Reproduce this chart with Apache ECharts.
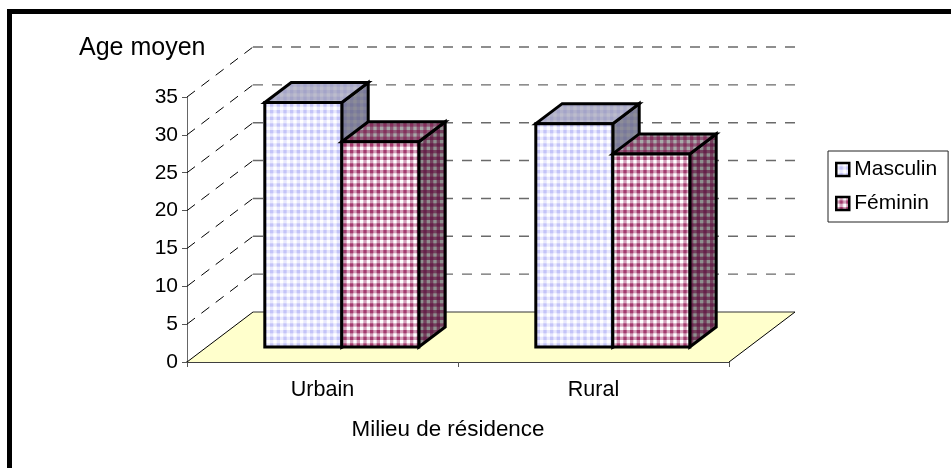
<!DOCTYPE html>
<html>
<head>
<meta charset="utf-8">
<style>html,body{margin:0;padding:0;background:#fff}#c{width:951px;height:468px}</style>
<script src="https://cdn.jsdelivr.net/npm/echarts@6/dist/echarts.min.js"></script>
</head>
<body>
<div id="c"></div>
<script>
const categories = ['Urbain', 'Rural'];
const masculin = [32.3, 29.5];
const feminin = [27.1, 25.5];
const tickValues = [0, 5, 10, 15, 20, 25, 30, 35];
const seriesNames = ['Masculin', 'Féminin'];

const depthX = 66, depthY = 50, barFront = 0.3, barBack = 0.7, barShare = 77 / 271;
const FONT = '"Liberation Sans", Arial, sans-serif';

function plaid(light, mid, dark) {
  const size = 20, period = size / 3, cell = period / 2;
  const c = document.createElement('canvas');
  c.width = size; c.height = size;
  const g = c.getContext('2d');
  g.fillStyle = mid; g.fillRect(0, 0, size, size);
  for (let i = 0; i < 3; i++) {
    for (let j = 0; j < 3; j++) {
      g.fillStyle = light;
      g.fillRect(i * period, j * period, cell, cell);
      g.fillStyle = dark;
      g.fillRect(i * period + cell, j * period + cell, cell, cell);
    }
  }
  return { image: c, repeat: 'repeat' };
}
const fills = {
  Masculin: { front: plaid('#ffffff', '#e8e8fd', '#c4c4f8'), top: plaid('#bcbccc', '#b0b0ca', '#a4a4c8'), side: plaid('#8c8c98', '#82829a', '#78789a') },
  'Féminin': { front: plaid('#ffffff', '#d4a0ba', '#a33a6e'), top: plaid('#a8a8a8', '#8e5a78', '#84305c'), side: plaid('#8f8f8f', '#72405c', '#66204a') }
};

function wallItem(params, api) {
  const v = api.value(1);
  const a = api.coord([0, v]);
  const left = api.coord([0, 0])[0] - api.size([1, 0])[0] / 2;
  const right = left + api.size([1, 0])[0] * categories.length;
  const y = a[1];
  const bx = left + depthX, by = y - depthY;
  if (v === 0) {
    return {
      type: 'group', children: [
        { type: 'polygon', shape: { points: [[left, y], [bx, by], [right + depthX, by], [right, y]] }, style: { fill: '#ffffcc', stroke: null } },
        { type: 'line', shape: { x1: left, y1: y, x2: bx, y2: by }, style: { stroke: '#000', lineWidth: 1 } },
        { type: 'line', shape: { x1: bx, y1: by, x2: right + depthX, y2: by }, style: { stroke: '#333', lineWidth: 1 } },
        { type: 'line', shape: { x1: right + depthX, y1: by, x2: right, y2: y }, style: { stroke: '#000', lineWidth: 1 } }
      ]
    };
  }
  return {
    type: 'group', children: [
      { type: 'line', shape: { x1: left, y1: y, x2: bx, y2: by }, style: { stroke: '#000', lineWidth: 1, lineDash: [10, 8] } },
      { type: 'line', shape: { x1: bx, y1: by, x2: right + depthX, y2: by }, style: { stroke: '#6a6a6a', lineWidth: 1.4, lineDash: [10, 9] } }
    ]
  };
}

function barItem(seriesIndex, name) {
  return function (params, api) {
    const i = api.value(0), v = api.value(1);
    const base = api.coord([i, 0]);
    const top = api.coord([i, v]);
    const w = api.size([1, 0])[0] * barShare;
    const fx = depthX * barFront, fy = depthY * barFront;
    const bx = depthX * (barBack - barFront), by = depthY * (barBack - barFront);
    const x0 = base[0] - w + seriesIndex * w + fx - 0.5, x1 = x0 + w;
    const y0 = base[1] - fy, y1 = top[1] - fy;
    const stroke = { stroke: '#000', lineWidth: 3, lineJoin: 'miter' };
    const f = fills[name];
    return {
      type: 'group', children: [
        { type: 'polygon', shape: { points: [[x1, y1], [x1 + bx, y1 - by], [x1 + bx, y0 - by], [x1, y0]] }, style: Object.assign({ fill: f.side }, stroke) },
        { type: 'polygon', shape: { points: [[x0, y1], [x0 + bx, y1 - by], [x1 + bx, y1 - by], [x1, y1]] }, style: Object.assign({ fill: f.top }, stroke) },
        { type: 'rect', shape: { x: x0, y: y1, width: w, height: y0 - y1 }, style: Object.assign({ fill: f.front }, stroke) }
      ]
    };
  };
}

const chart = echarts.init(document.getElementById('c'), null, { renderer: 'canvas' });
chart.setOption({
  animation: false,
  backgroundColor: '#fff',
  textStyle: { fontFamily: FONT, color: '#000' },
  title: { text: 'Age moyen', left: 79, top: 36, padding: 0, textStyle: { fontFamily: FONT, fontSize: 25, fontWeight: 'normal', color: '#000' } },
  grid: { left: 187, right: 222, top: 97, bottom: 106 },
  legend: {
    data: seriesNames,
    orient: 'vertical', left: 828, top: 151, padding: [8, 11, 8, 7],
    backgroundColor: '#fff', borderColor: '#222', borderWidth: 1, borderRadius: 0,
    itemWidth: 13, itemHeight: 13, itemGap: 13, icon: 'rect', selectedMode: false,
    itemStyle: { borderColor: '#000', borderWidth: 2.5 },
    textStyle: { fontFamily: FONT, fontSize: 21, color: '#000' }
  },
  xAxis: {
    type: 'category', data: categories,
    name: 'Milieu de résidence', nameLocation: 'middle', nameGap: 57,
    nameTextStyle: { fontFamily: FONT, fontSize: 22.4, color: '#000', padding: [0, 20, 0, 0] },
    axisLine: { show: true, lineStyle: { color: '#000', width: 1.5 } },
    axisTick: { show: true, alignWithLabel: false, length: 5, lineStyle: { color: '#555' } },
    axisLabel: { fontFamily: FONT, fontSize: 21.5, color: '#000', margin: 17 },
    splitLine: { show: false }
  },
  yAxis: {
    type: 'value', min: 0, max: 35, interval: 5,
    axisLine: { show: true, lineStyle: { color: '#666' } },
    axisTick: { show: true, length: 5, lineStyle: { color: '#555' } },
    axisLabel: { fontFamily: FONT, fontSize: 21, color: '#000', margin: 9 },
    splitLine: { show: false }
  },
  series: [
    { type: 'custom', name: 'Parois', silent: true, z: 1, renderItem: wallItem, encode: { x: 0, y: 1 }, data: tickValues.map(function (t) { return [0, t]; }) },
    { type: 'custom', name: seriesNames[0], z: 2, renderItem: barItem(0, seriesNames[0]), encode: { x: 0, y: 1 }, itemStyle: { color: fills[seriesNames[0]].front, borderColor: '#000', borderWidth: 2.5 }, data: masculin.map(function (v, i) { return [i, v]; }) },
    { type: 'custom', name: seriesNames[1], z: 3, renderItem: barItem(1, seriesNames[1]), encode: { x: 0, y: 1 }, itemStyle: { color: fills[seriesNames[1]].front, borderColor: '#000', borderWidth: 2.5 }, data: feminin.map(function (v, i) { return [i, v]; }) }
  ],
  graphic: [
    { type: 'rect', silent: true, shape: { x: 7, y: 9, width: 944, height: 5 }, style: { fill: '#000' } },
    { type: 'rect', silent: true, shape: { x: 7, y: 9, width: 5, height: 459 }, style: { fill: '#000' } }
  ]
});
</script>
</body>
</html>
